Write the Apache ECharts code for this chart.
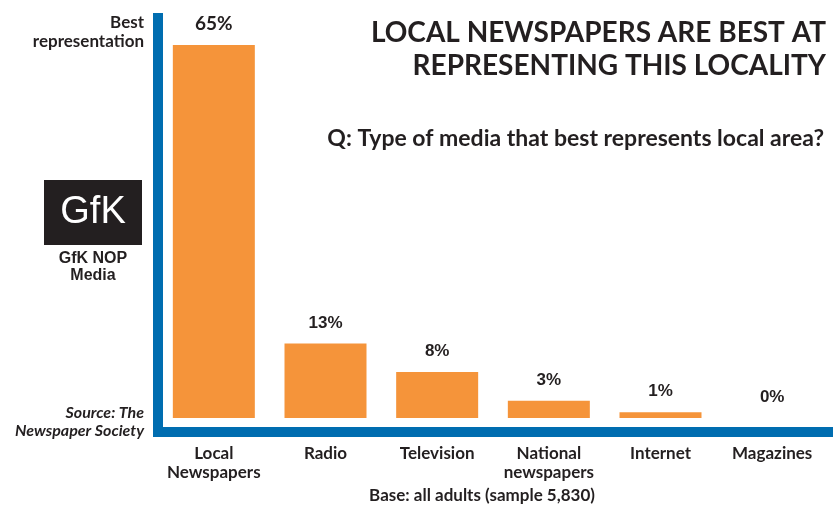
<!DOCTYPE html>
<html>
<head>
<meta charset="utf-8">
<script src="https://cdn.jsdelivr.net/npm/echarts@6/dist/echarts.min.js"></script>
<style>html,body{margin:0;padding:0;background:#fff;}#main{width:838px;height:509px;}</style>
</head>
<body>
<div id="main"></div>
<script>
const categories = ['Local\nNewspapers', 'Radio', 'Television', 'National\nnewspapers', 'Internet', 'Magazines'];
const values = [65, 13, 8, 3, 1, 0];
const valueLabels = ['65%', '13%', '8%', '3%', '1%', '0%'];

const BLUE = '#006db0';
const ORANGE = '#f5943a';
const INK = '#231f20';
const HUM = 'Lato, "Open Sans", sans-serif';
const ARIAL = '"Liberation Sans", Arial, sans-serif';

const chart = echarts.init(document.getElementById('main'), null, {renderer: 'canvas'});
chart.setOption({
  backgroundColor: '#fff',
  animation: false,
  grid: {left: 158, right: 10, top: 18, bottom: 77},
  xAxis: {
    type: 'category',
    data: categories,
    axisLine: {show: true, onZero: false, lineStyle: {color: BLUE, width: 10, cap: 'square'}},
    axisTick: {show: false},
    axisLabel: {interval: 0, margin: 12, color: INK, fontFamily: HUM, fontWeight: 'bold', fontSize: 17, lineHeight: 19}
  },
  yAxis: {
    type: 'value',
    min: -2.44,
    max: 69.7,
    axisLine: {show: true, lineStyle: {color: BLUE, width: 10, cap: 'square'}},
    axisTick: {show: false},
    axisLabel: {show: false},
    splitLine: {show: false}
  },
  series: [{
    type: 'bar',
    barWidth: 82,
    itemStyle: {color: ORANGE},
    data: values.map((v, i) => i === 0
      ? {value: v, label: {fontFamily: HUM, fontSize: 19, fontWeight: 'bold'}}
      : {value: v}),
    label: {
      show: true,
      position: 'top',
      distance: 12,
      color: INK,
      fontFamily: ARIAL,
      fontWeight: 'bold',
      fontSize: 17,
      formatter: p => valueLabels[p.dataIndex]
    }
  }],
  graphic: [
    {type: 'text', style: {x: 826, y: 19, text: 'LOCAL NEWSPAPERS ARE BEST AT', align: 'right', verticalAlign: 'top', fill: INK, font: 'bold 28px ' + HUM}},
    {type: 'text', style: {x: 826, y: 52, text: 'REPRESENTING THIS LOCALITY', align: 'right', verticalAlign: 'top', fill: INK, font: 'bold 28px ' + HUM}},
    {type: 'text', style: {x: 824, y: 127, text: 'Q: Type of media that best represents local area?', align: 'right', verticalAlign: 'top', fill: INK, font: 'bold 23px ' + HUM}},
    {type: 'text', style: {x: 144, y: 13, text: 'Best\nrepresentation', align: 'right', verticalAlign: 'top', fill: INK, font: 'bold 17px ' + HUM, lineHeight: 19}},
    {type: 'rect', shape: {x: 44, y: 180, width: 98, height: 65}, style: {fill: INK}},
    {type: 'text', style: {x: 93, y: 213, text: 'GfK', align: 'center', verticalAlign: 'middle', fill: '#fff', font: '38px ' + ARIAL}},
    {type: 'text', style: {x: 93, y: 250, text: 'GfK NOP\nMedia', align: 'center', verticalAlign: 'top', fill: INK, font: 'bold 16px ' + ARIAL, lineHeight: 17}},
    {type: 'text', style: {x: 144, y: 404, text: 'Source: The\nNewspaper Society', align: 'right', verticalAlign: 'top', fill: INK, font: 'italic bold 16px ' + HUM, lineHeight: 18}},
    {type: 'text', style: {x: 482, y: 487, text: 'Base: all adults (sample 5,830)', align: 'center', verticalAlign: 'top', fill: INK, font: 'bold 17px ' + HUM}}
  ]
});
</script>
</body>
</html>
